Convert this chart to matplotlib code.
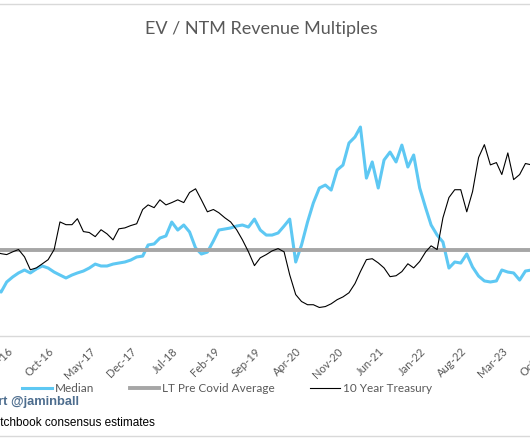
import numpy as np
import pandas as pd
import matplotlib
matplotlib.use("Agg")
import matplotlib.pyplot as plt
from matplotlib.lines import Line2D

# monthly data, Jan 2016 .. Aug 2023
dates = pd.date_range("2016-01-01", "2023-08-01", freq="MS")

median = [
    4.43, 4.16, 4.84, 5.18, 5.45, 5.65, 5.45, 5.72, 5.92, 5.78, 5.51, 5.31,
    5.11, 5.31, 5.45, 5.58, 5.78, 6.05, 5.92, 5.92, 6.05, 6.12, 6.19, 6.32,
    6.53, 6.59, 7.34, 7.41, 7.81, 7.95, 8.89, 8.35, 8.69, 8.22, 7.14, 6.73,
    6.86, 7.61, 8.35, 8.42, 8.49, 8.62, 8.69, 8.55, 9.09, 8.35, 8.01, 8.01,
    8.15, 8.62, 9.09, 6.19, 7.34, 8.89, 10.18, 11.19, 11.39, 11.05, 12.41, 12.74,
    14.23, 14.64, 15.31, 11.86, 12.95, 11.19, 13.08, 13.62, 12.95, 14.09, 12.61, 13.42,
    11.19, 9.84, 8.69, 8.01, 7.54, 5.78, 6.19, 6.12, 6.73, 5.85, 5.24, 4.91,
    4.84, 4.91, 5.65, 5.51, 5.45, 4.97, 5.58, 5.65,
]

treasury = [
    1.83, 1.79, 1.77, 1.83, 1.88, 1.72, 1.44, 1.48, 1.57, 1.66, 1.88, 2.48,
    2.42, 2.42, 2.55, 2.27, 2.25, 2.16, 2.31, 2.22, 2.09, 2.33, 2.35, 2.40,
    2.44, 2.75, 2.85, 2.79, 2.96, 2.85, 2.90, 2.96, 2.90, 3.12, 3.20, 2.96,
    2.70, 2.75, 2.68, 2.57, 2.48, 2.31, 2.09, 1.83, 1.53, 1.70, 1.77, 1.85,
    1.90, 1.83, 1.33, 0.90, 0.75, 0.68, 0.68, 0.62, 0.64, 0.70, 0.79, 0.85,
    0.94, 1.14, 1.40, 1.66, 1.68, 1.59, 1.48, 1.29, 1.31, 1.40, 1.57, 1.48,
    1.62, 1.83, 1.96, 1.88, 2.57, 3.01, 3.18, 3.18, 2.70, 3.14, 3.88, 4.16,
    3.72, 3.77, 3.51, 3.98, 3.40, 3.51, 3.75, 3.72,
]

lt_avg = 7.0

tick_dates = pd.date_range("2016-03-01", "2023-10-01", freq="7MS")
tick_labels = [d.strftime("%b-%y") for d in tick_dates]

BLUE = "#5ec8f3"
GREY_LINE = "#a6a6a6"
TEXT = "#595959"
FONT = "Lato"

fig = plt.figure(figsize=(5.30, 4.42), dpi=100)

# axes runs a little past the right edge (chart is cropped)
ax = fig.add_axes([0.0, 106 / 442, 560 / 530, 276 / 442])
ax2 = ax.twinx()

l1, = ax.plot(dates, median, color=BLUE, lw=2.2, label="Median", zorder=2)
l2, = ax.plot(dates, [lt_avg] * len(dates), color=GREY_LINE, lw=2.8,
              label="LT Pre Covid Average", zorder=3)
l3, = ax2.plot(dates, treasury, color="black", lw=0.8, label="10 Year Treasury")

start = pd.Timestamp("2016-03-01")
px_per_day = 5.896 * 12 / 365.25
ax.set_xlim(start - pd.Timedelta(days=6.7 / px_per_day),
            start + pd.Timedelta(days=(560 - 6.7) / px_per_day))
ax.set_ylim(1.19, 19.84)
ax2.set_ylim(0.0, 6.0)

ax.set_xticks(tick_dates)
ax.set_xticklabels(tick_labels, rotation=45, ha="right", rotation_mode="anchor",
                   fontsize=8, color=TEXT, family=FONT)
ax.tick_params(axis="x", length=0, pad=7)
ax.set_yticks([])
ax2.set_yticks([])
for a in (ax, ax2):
    for s in ("top", "left", "right"):
        a.spines[s].set_visible(False)
ax.spines["bottom"].set_color("#d9d9d9")
ax.spines["bottom"].set_linewidth(1.0)
ax2.spines["bottom"].set_visible(False)

fig.text(261 / 530, 1 - 29 / 442, "EV / NTM Revenue Multiples", ha="center",
         va="center", fontsize=13, color=TEXT, family=FONT)

fig.legend(handles=[l1, l2, l3], loc="center",
           bbox_to_anchor=(227 / 530, 1 - 389 / 442), ncol=3, frameon=False,
           handlelength=2.5, handletextpad=0.25, columnspacing=3.0,
           prop={"family": FONT, "size": 8.5}, labelcolor=TEXT)

fig.text(79 / 530, 1 - 402 / 442, "Chart @jaminball", ha="right", va="center",
         fontsize=9.3, fontweight="bold", color="#4d6d8e", family="Liberation Sans")
fig.text(155 / 530, 1 - 423 / 442, "Source: Pitchbook consensus estimates",
         ha="right", va="center", fontsize=8.5, color="black",
         family="Liberation Sans")

# thin frame lines of the original chart image
for yy in (4, 436):
    fig.add_artist(Line2D([0, 1], [1 - yy / 442] * 2, color="#d9d9d9", lw=1.0))

fig.savefig("out.png", dpi=100)
